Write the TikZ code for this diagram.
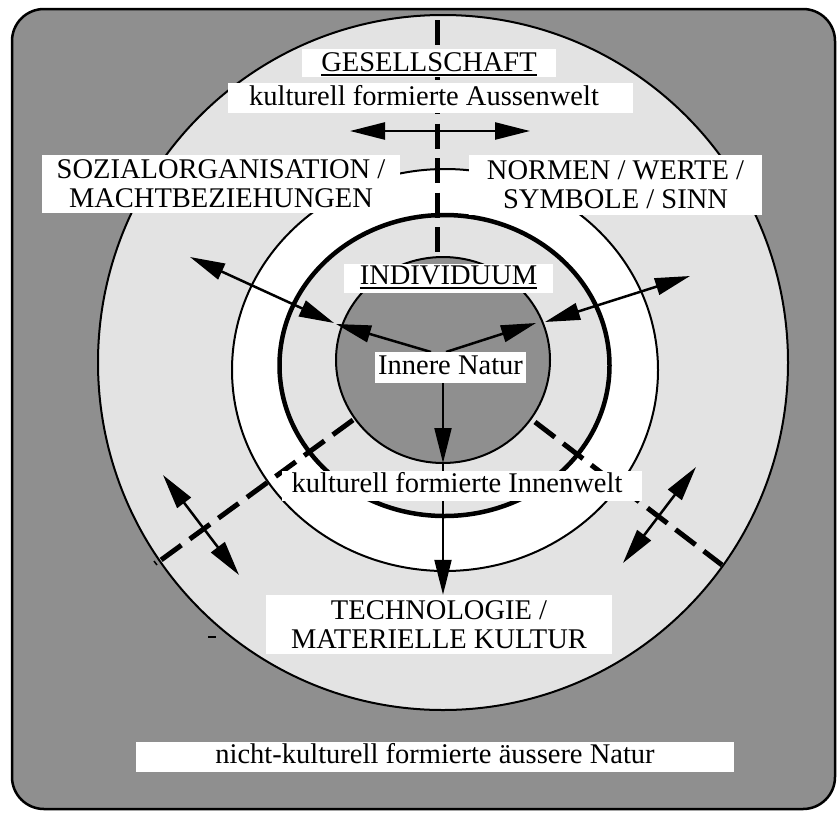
\documentclass[tikz,border=0pt]{standalone}
\usepackage{fontspec}
\setmainfont{Liberation Serif}
\usetikzlibrary{arrows.meta}
\definecolor{darkfill}{HTML}{8F8F8F}
\definecolor{lightfill}{HTML}{E3E3E3}
\newcommand\lblfont{\fontsize{28.5}{29}\selectfont}
\newcommand\myul[1]{\sbox0{#1}\rlap{\rule[-5pt]{\wd0}{2pt}}\usebox0}
\begin{document}
\begin{tikzpicture}[x=1pt,y=-1pt,
  ringline/.style={line width=2pt, draw=black},
  boxlbl/.style={fill=white, inner sep=0pt, font=\lblfont, align=center},
  dbl/.style={line width=2.5pt, {Triangle[length=35pt,width=17pt]}-{Triangle[length=35pt,width=17pt]}},
  onearrow/.style={line width=2pt, -{Triangle[length=35pt,width=17pt]}},
  dashline/.style={line width=5pt, dash pattern=on 25pt off 9.5pt},
  diagdash/.style={line width=5pt, dash pattern=on 25pt off 10.4pt},
]
\useasboundingbox (0,0) rectangle (838,812);
% frame
\draw[line width=2.5pt, fill=darkfill, rounded corners=32pt] (12,9) rectangle (835,809);
% rings
\draw[ringline, fill=lightfill] (443,362.5) ellipse [x radius=345pt, y radius=347.5pt];
\draw[ringline, fill=white] (445,370) ellipse [x radius=213pt, y radius=201pt];
\draw[line width=4.5pt, fill=lightfill] (444.5,365.5) ellipse [x radius=165pt, y radius=150.5pt];
\draw[ringline, fill=darkfill] (443,360) ellipse [x radius=107pt, y radius=103pt];
% coordinates
\coordinate (vTop) at (437,20);
\coordinate (vBot) at (437,252);
\coordinate (dlIn) at (353,420);
\coordinate (dlOut) at (161,560);
\coordinate (drIn) at (535,422);
\coordinate (drOut) at (722,565);
\coordinate (hL) at (350,131);
\coordinate (hR) at (530,131);
\coordinate (ulA) at (190,257);
\coordinate (pL) at (334,323);
\coordinate (pL2) at (336,324);
\coordinate (cL) at (431,352);
\coordinate (urA) at (690,276);
\coordinate (pR) at (545,322);
\coordinate (pR2) at (536,323);
\coordinate (cR) at (446,352);
\coordinate (gBot) at (443,463);
\coordinate (saL1) at (163,475);
\coordinate (saL2) at (239,575);
\coordinate (saR1) at (696,467);
\coordinate (saR2) at (623,563);
% dashed lines
\draw[dashline] (vTop) -- (vBot);
\draw[diagdash] (dlIn) -- (dlOut);
\draw[diagdash] (drIn) -- (drOut);
% arrows
\draw[dbl] (hL) -- (hR);
\draw[dbl] (ulA) -- (pL);
\draw[onearrow, line width=2.5pt] (cL) -- (pL2);
\draw[dbl] (urA) -- (pR);
\draw[onearrow, line width=2.5pt] (cR) -- (pR2);
\draw[dbl] (saL1) -- (saL2);
\draw[dbl] (saR1) -- (saR2);
% small marks
\draw[line width=2pt] (208,637) -- (216,637);
\draw[line width=1.5pt] (154,561) -- (157,565);
% labels
\node[boxlbl, minimum width=254pt, text height=22pt, text depth=6pt, anchor=base] (gesell) at (429,71) {\myul{GESELLSCHAFT}};
\node[boxlbl, minimum width=405pt, text height=22.5pt, text depth=7.5pt, anchor=base] (aussen) at (430.5,105.5) {kulturell formierte Aussenwelt\hspace*{13pt}};
\node[boxlbl, minimum width=358pt, minimum height=58pt] (sozial) at (221,184) {SOZIALORGANISATION /\\MACHTBEZIEHUNGEN};
\node[boxlbl, minimum width=293pt, minimum height=60pt] (normen) at (615.5,185) {NORMEN / WERTE /\\SYMBOLE / SINN};
\node[boxlbl, minimum width=209pt, text height=20pt, text depth=9pt, anchor=base] (indiv) at (448.5,284) {\myul{INDIVIDUUM}};
\node[boxlbl, minimum width=151pt, text height=22pt, text depth=9pt, anchor=base] (innere) at (450.5,374) {Innere Natur};
\node[boxlbl, minimum width=346pt, minimum height=59pt] (techno) at (439,624.5) {TECHNOLOGIE /\\MATERIELLE KULTUR};
\draw[onearrow] (innere.south -| gBot) -- (gBot);
\draw[onearrow] (gBot) -- (techno.north -| gBot);
\node[boxlbl, minimum width=360pt, text height=21pt, text depth=9pt, anchor=base] (innen) at (462,492) {kulturell formierte Innenwelt\hspace*{10pt}};
\node[boxlbl, minimum width=598pt, text height=21pt, text depth=9pt, anchor=base] (natur) at (435,763) {nicht-kulturell formierte äussere Natur};
\end{tikzpicture}
\end{document}
